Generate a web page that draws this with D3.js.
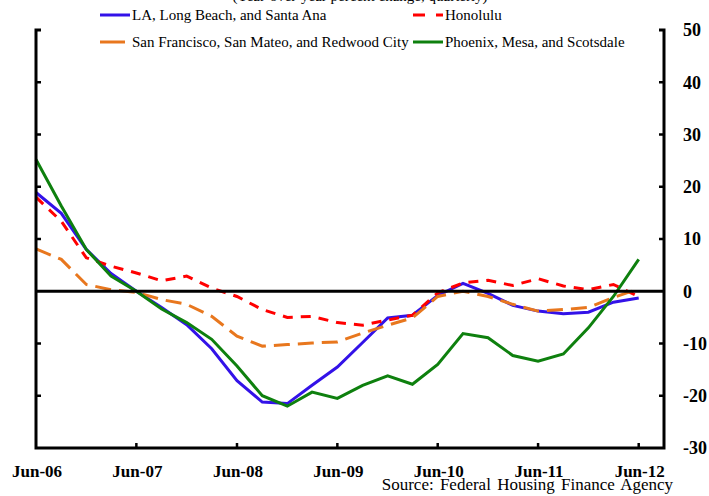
<!DOCTYPE html>
<html>
<head>
<meta charset="utf-8">
<script src="https://cdn.jsdelivr.net/npm/d3@7"></script>
<style>
  body { margin: 0; background: #fff; }
  text { font-family: "Liberation Serif", "Times New Roman", serif; }
</style>
</head>
<body>
<svg width="709" height="496"></svg>
<script>
const quarters = ["2006-06","2006-09","2006-12","2007-03","2007-06","2007-09","2007-12","2008-03",
  "2008-06","2008-09","2008-12","2009-03","2009-06","2009-09","2009-12","2010-03",
  "2010-06","2010-09","2010-12","2011-03","2011-06","2011-09","2011-12","2012-03","2012-06"];
const la = [18.9, 14.9, 8.0, 3.4, 0.0, -3.1, -6.4, -11.0, -17.1, -21.2, -21.5, -18.0, -14.5,
  -9.8, -5.1, -4.6, -0.8, 1.5, -0.4, -2.7, -3.8, -4.3, -4.0, -2.1, -1.3];
const honolulu = [18.0, 13.4, 6.4, 4.8, 3.5, 2.0, 2.9, 0.6, -1.0, -3.5, -5.0, -4.8, -6.0,
  -6.5, -5.5, -4.6, -0.3, 1.6, 2.1, 1.1, 2.4, 1.0, 0.3, 1.3, -1.0];
const sf = [8.1, 6.1, 1.3, 0.3, -0.2, -1.6, -2.5, -4.8, -8.6, -10.5, -10.2, -9.9, -9.7,
  -8.0, -6.5, -5.1, -1.0, 0.0, -1.0, -2.5, -3.8, -3.5, -3.1, -1.2, 0.5];
const phoenix = [25.2, 16.3, 8.0, 2.9, 0.0, -3.4, -6.0, -9.2, -14.3, -20.0, -22.0, -19.3, -20.5,
  -18.0, -16.2, -17.8, -14.0, -8.1, -8.9, -12.3, -13.4, -12.0, -7.0, -1.0, 6.1];
const yTicks = [50, 40, 30, 20, 10, 0, -10, -20, -30];
const xTickLabels = ["Jun-06","Jun-07","Jun-08","Jun-09","Jun-10","Jun-11","Jun-12"];

const series = [
  {name: "LA, Long Beach, and Santa Ana", values: la, color: "#3312e8", dash: null},
  {name: "Honolulu", values: honolulu, color: "#ff0000", dash: "10,8"},
  {name: "San Francisco, San Mateo, and Redwood City", values: sf, color: "#e8771e", dash: "16,8"},
  {name: "Phoenix, Mesa, and Scotsdale", values: phoenix, color: "#0e800e", dash: null}
];

const svg = d3.select("svg");
const parse = d3.timeParse("%Y-%m");
const parseLabel = d3.timeParse("%b-%y");
const dates = quarters.map(parse);

const margin = {top: 30, left: 36};

// axis runs one quarter past the last point
const x = d3.scaleTime()
  .domain([parse("2006-06"), parse("2012-09")])
  .range([0, 628]);
const y = d3.scaleLinear().domain([-30, 50]).range([418, 0]);

const g = svg.append("g").attr("transform", `translate(${margin.left},${margin.top})`);

// subtitle, mostly cut off at the top (as in the original)
svg.append("text")
  .attr("x", 360).attr("y", 1)
  .attr("text-anchor", "middle")
  .style("font-size", "15px")
  .text("(Year-over-year percent change, quarterly)");

// lines
const line = d3.line().x((d, i) => x(dates[i])).y(d => y(d));
series.forEach(s => {
  g.append("path")
    .datum(s.values)
    .attr("fill", "none")
    .attr("stroke", s.color)
    .attr("stroke-width", 3)
    .attr("stroke-dasharray", s.dash)
    .attr("d", line);
});

// zero line
g.append("line")
  .attr("x1", 0).attr("x2", 628)
  .attr("y1", y(0)).attr("y2", y(0))
  .attr("stroke", "#000").attr("stroke-width", 3);

// frame: left, bottom, right
const frame = g.append("g").attr("stroke", "#000").attr("stroke-width", 3).attr("fill", "none");
frame.append("path").attr("d", `M5,${y(50)}H0V${y(-30)}H628V${y(50)}H623`);

// y ticks inward on both sides
yTicks.filter(v => v !== 50 && v !== -30 && v !== 0).forEach(v => {
  frame.append("line").attr("x1", 0).attr("x2", 5).attr("y1", y(v)).attr("y2", y(v)).attr("stroke-width", 2.5);
  frame.append("line").attr("x1", 623).attr("x2", 628).attr("y1", y(v)).attr("y2", y(v)).attr("stroke-width", 2.5);
});

// right tick labels
g.selectAll(".ylab").data(yTicks).enter().append("text")
  .attr("x", 647)
  .attr("y", d => y(d))
  .attr("dy", "0.35em")
  .style("font-size", "18px")
  .style("font-weight", "bold")
  .text(d => d);

// x ticks and labels
xTickLabels.forEach((lab, i) => {
  const d = parseLabel(lab);
  if (i > 0) frame.append("line").attr("x1", x(d)).attr("x2", x(d))
    .attr("y1", y(-30)).attr("y2", y(-30) - 5).attr("stroke-width", 2.5);
  g.append("text")
    .attr("x", x(d) + 1)
    .attr("y", y(-30) + 29)
    .attr("text-anchor", "middle")
    .style("font-size", "17px")
    .style("font-weight", "bold")
    .text(lab);
});

svg.append("text")
  .attr("x", 673).attr("y", 490)
  .attr("text-anchor", "end")
  .style("font-size", "17px")
  .style("word-spacing", "2px")
  .text("Source: Federal Housing Finance Agency");

// legend, two rows
const legendPos = [[100, 15], [413, 15], [100, 42], [413, 42]];
series.forEach((s, i) => {
  const [lx, ly] = legendPos[i];
  const lg = svg.append("g").attr("transform", `translate(${lx},${ly})`);
  lg.append("line")
    .attr("x1", 0).attr("x2", i === 2 ? 25 : 30)
    .attr("stroke", s.color).attr("stroke-width", 3)
    .attr("stroke-dasharray", i === 1 ? "12,11" : null);
  lg.append("text")
    .attr("x", 32).attr("dy", "0.35em")
    .style("font-size", "15px")
    .text(s.name);
});
</script>
</body>
</html>
